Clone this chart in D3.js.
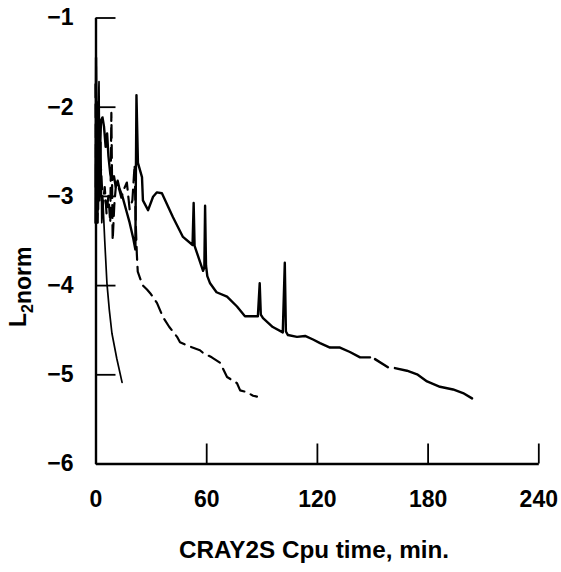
<!DOCTYPE html>
<html>
<head>
<meta charset="utf-8">
<script src="https://d3js.org/d3.v7.min.js"></script>
<style>
	body { margin: 0; background: #fff; }
	.axis path, .axis line { stroke: #000; }
	.axis text { font-family: "Liberation Sans", sans-serif; font-weight: bold; font-size: 23px; fill: #000; }
	.curve { fill: none; stroke: #000; stroke-linejoin: round; stroke-linecap: round; }
	.title { font-family: "Liberation Sans", sans-serif; font-weight: bold; font-size: 23px; }
</style>
</head>
<body>
<svg id="chart" width="561" height="572"></svg>
<script>
	// tick values
	var xTicks = [0, 60, 120, 180, 240];
	var yTicks = [-6, -5, -4, -3, -2, -1];

	// long solid run (null = gap in the line)
	var longTime = [0, 0.3, 0.6, 1.0, 1.4, 1.8, 2.3, 3.0, 3.8, 4.6, 5.5, 6.3, 7.0, 8.0, 9.0, 10.0, 11.0, 12.0, 13.0, 14.5,
		16.5, 18.5, 20.5, 21.6, 22.2, 23.0, 25.2, 25.7, 28.5, 31.2, 33.3, 36.0, 42.0, 47.4, 52.6, 53.2, 53.7, 56.0, 58.3, 59.0,
		59.4, 59.9, 60.6, 62.1, 65.6, 71.3, 76.7, 81.0, 88.0, 89.0, 89.6, 90.8, 96.1, 101.5, 102.6, 103.2, 104.3, 109.2, 113.6, 117.9,
		121.7, 127.1, 132.5, 137.9, 143.4, 148.8, 150.0, 151.5, 158.5, 160.0, 162.3, 168.8, 174.3, 179.7, 186.7, 193.8, 199.2, 204.1];
	var longNorm = [-3.3, -1.45, -2.95, -1.95, -3.15, -2.3, -2.6, -2.15, -2.12, -2.22, -2.45, -2.3, -2.55, -2.75, -2.82, -2.78, -2.9, -2.83, -2.92, -3.0,
		-3.15, -3.3, -3.48, -3.6, -1.87, -2.63, -2.79, -3.05, -3.16, -3.01, -2.96, -2.97, -3.24, -3.46, -3.55, -3.08, -3.56, -3.7, -3.84, -3.8,
		-3.11, -3.78, -3.9, -3.98, -4.08, -4.13, -4.24, -4.35, -4.35, -3.98, -4.33, -4.37, -4.47, -4.53, -3.75, -4.52, -4.56, -4.58, -4.57, -4.61,
		-4.65, -4.7, -4.7, -4.75, -4.81, -4.81, null, -4.83, -4.92, null, -4.93, -4.96, -5.0, -5.08, -5.14, -5.17, -5.21, -5.27];

	// dashed run
	var dashTime = [0, 0.4, 0.8, 1.2, 1.7, 2.2, 3.0, 4.0, 5.0, 6.0, 7.0, 8.0, 8.6, 9.3, 10.2, 11.2, 12.5, 14.0, 15.5, 17.0,
		18.5, 20.0, 21.2, 21.8, 22.4, 22.9, 25.5, 27.9, 30.0, 33.3, 36.6, 40.0, 44.2, 45.8, 50.0, 56.6, 58.3, 63.0, 67.5, 71.3,
		76.7, 78.4, 82.0, 85.4, 87.5];
	var dashNorm = [-1.75, -3.2, -2.05, -3.3, -2.4, -3.05, -2.7, -3.1, -2.9, -3.2, -3.0, -3.3, -2.07, -3.5, -3.1, -2.85, -2.9, -3.02, -2.92, -2.85,
		-3.15, -3.05, -2.65, -3.3, -3.65, -3.85, -4.0, -4.05, -4.1, -4.2, -4.36, -4.47, -4.58, -4.64, -4.68, -4.73, -4.76, -4.81, -4.87, -5.03,
		-5.1, -5.18, -5.2, -5.24, -5.25];

	// short solid run
	var shortTime = [0, 0.4, 0.9, 1.3, 1.9, 2.4, 2.9, 3.4, 4.0, 5.0, 6.2, 7.5, 8.9, 11.5, 14.4];
	var shortNorm = [-2.9, -1.55, -3.3, -2.2, -1.72, -3.0, -2.4, -3.3, -3.05, -3.5, -3.98, -4.28, -4.54, -4.82, -5.09];

	var svg = d3.select("#chart");

	var x = d3.scaleLinear().domain([0, 240]).range([95.5, 538.3]);
	var y = d3.scaleLinear().domain([-6, -1]).range([463.5, 17.5]);

	function pairs(ts, vs) {
		return ts.map(function(t, i) { return {t: t, v: vs[i]}; });
	}

	var line = d3.line()
		.defined(function(d) { return d.v !== null; })
		.x(function(d) { return x(d.t); })
		.y(function(d) { return y(d.v); });

	svg.append("path")
		.datum(pairs(shortTime, shortNorm))
		.attr("class", "curve")
		.attr("stroke-width", 1.7)
		.attr("d", line);

	svg.append("path")
		.datum(pairs(dashTime, dashNorm))
		.attr("class", "curve")
		.attr("stroke-width", 2.2)
		.attr("stroke-dasharray", "13,7")
		.attr("stroke-linecap", "butt")
		.attr("d", line);

	svg.append("path")
		.datum(pairs(longTime, longNorm))
		.attr("class", "curve")
		.attr("stroke-width", 2.4)
		.attr("d", line);

	// axes: ticks point inward
	svg.append("g")
		.attr("class", "axis")
		.attr("transform", "translate(0," + y(-6) + ")")
		.call(d3.axisBottom(x).tickValues(xTicks).tickFormat(d3.format("d"))
			.tickSizeInner(-20).tickSizeOuter(0).tickPadding(27));

	svg.append("g")
		.attr("class", "axis")
		.attr("transform", "translate(" + x(0) + ",0)")
		.call(d3.axisLeft(y).tickValues(yTicks).tickFormat(d3.format("d"))
			.tickSizeInner(-20).tickSizeOuter(0).tickPadding(22));

	svg.selectAll(".axis line").attr("stroke-width", 1.8);
	svg.selectAll(".axis .domain").attr("stroke-width", 2.4);

	// axis titles
	svg.append("text")
		.attr("class", "title")
		.attr("x", 314)
		.attr("y", 558)
		.attr("text-anchor", "middle")
		.attr("textLength", 270)
		.attr("lengthAdjust", "spacingAndGlyphs")
		.text("CRAY2S Cpu time, min.");

	var yt = svg.append("text")
		.attr("class", "title")
		.attr("transform", "translate(26,327) rotate(-90)");
	yt.append("tspan").text("L");
	yt.append("tspan").attr("dy", 7).attr("font-size", "16px").text("2");
	yt.append("tspan").attr("dy", -2).text("norm");
</script>
</body>
</html>
